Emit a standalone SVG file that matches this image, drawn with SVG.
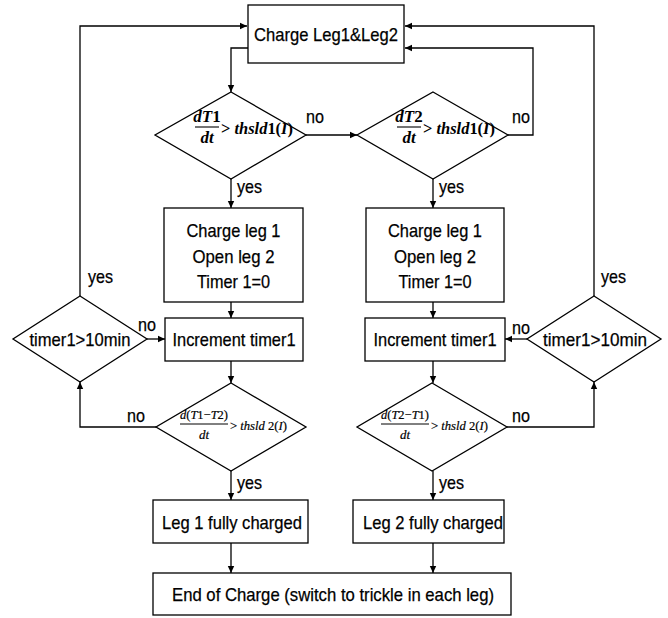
<svg xmlns="http://www.w3.org/2000/svg" width="668" height="618" viewBox="0 0 668 618">
<style>
.box{fill:#fff;stroke:#000;stroke-width:1.3}
.t{font-family:"Liberation Sans",Arial,sans-serif;font-size:19px;fill:#000;text-anchor:middle;stroke:#000;stroke-width:0.25}
.l{font-family:"Liberation Sans",Arial,sans-serif;font-size:19px;fill:#000;stroke:#000;stroke-width:0.25}
.m{font-family:"Liberation Serif","Times New Roman",serif;font-weight:bold;fill:#000}
.n{font-family:"Liberation Serif","Times New Roman",serif;fill:#000;stroke:#000;stroke-width:0.2}
.i{font-style:italic}
.c{fill:none;stroke:#000;stroke-width:1.3}
</style>
<defs>
<marker id="a" markerWidth="8" markerHeight="8" refX="7" refY="4" orient="auto" markerUnits="userSpaceOnUse">
<path d="M0,0.8 L7,4 L0,7.2 Z" fill="#000"/>
</marker>
</defs>
<rect width="668" height="618" fill="#fff"/>
<g id="connectors">
<path class="c" d="M80,296 V26 H247" marker-end="url(#a)"/>
<path class="c" d="M248,48 H231 V92" marker-end="url(#a)"/>
<path class="c" d="M306,135 H357" marker-end="url(#a)"/>
<path class="c" d="M508,135 H533 V48 H405" marker-end="url(#a)"/>
<path class="c" d="M231,179 V208" marker-end="url(#a)"/>
<path class="c" d="M433,179 V208" marker-end="url(#a)"/>
<path class="c" d="M231,302 V318" marker-end="url(#a)"/>
<path class="c" d="M433,302 V318" marker-end="url(#a)"/>
<path class="c" d="M147,339 H165" marker-end="url(#a)"/>
<path class="c" d="M527,339 H505" marker-end="url(#a)"/>
<path class="c" d="M231,361 V383" marker-end="url(#a)"/>
<path class="c" d="M433,361 V383" marker-end="url(#a)"/>
<path class="c" d="M156,427 H80 V382" marker-end="url(#a)"/>
<path class="c" d="M507,427 H594 V382" marker-end="url(#a)"/>
<path class="c" d="M594,296 V26 H405" marker-end="url(#a)"/>
<path class="c" d="M231,471 V500" marker-end="url(#a)"/>
<path class="c" d="M433,471 V500" marker-end="url(#a)"/>
<path class="c" d="M231,543 V573" marker-end="url(#a)"/>
<path class="c" d="M433,543 V573" marker-end="url(#a)"/>
<text class="l" x="306" y="123" textLength="18" lengthAdjust="spacingAndGlyphs">no</text>
<text class="l" x="512" y="123" textLength="18" lengthAdjust="spacingAndGlyphs">no</text>
<text class="l" x="237" y="193" textLength="25" lengthAdjust="spacingAndGlyphs">yes</text>
<text class="l" x="439" y="193" textLength="25" lengthAdjust="spacingAndGlyphs">yes</text>
<text class="l" x="88" y="283" textLength="25" lengthAdjust="spacingAndGlyphs">yes</text>
<text class="l" x="601" y="283" textLength="25" lengthAdjust="spacingAndGlyphs">yes</text>
<text class="l" x="138" y="331" textLength="18" lengthAdjust="spacingAndGlyphs">no</text>
<text class="l" x="512" y="334" textLength="18" lengthAdjust="spacingAndGlyphs">no</text>
<text class="l" x="127" y="422" textLength="18" lengthAdjust="spacingAndGlyphs">no</text>
<text class="l" x="512" y="422" textLength="18" lengthAdjust="spacingAndGlyphs">no</text>
<text class="l" x="237" y="489" textLength="25" lengthAdjust="spacingAndGlyphs">yes</text>
<text class="l" x="439" y="489" textLength="25" lengthAdjust="spacingAndGlyphs">yes</text>
</g>
<g id="start">
<rect class="box" x="248" y="5" width="156" height="58"/>
<text class="t" x="326" y="41" textLength="144" lengthAdjust="spacingAndGlyphs">Charge Leg1&amp;Leg2</text>
</g>
<g id="d1">
<polygon class="box" points="231,92 306,135 231,179 155,135"/>
<text class="m" font-size="17" x="207" y="122" text-anchor="middle"><tspan class="i">dT</tspan>1</text>
<line x1="195" y1="127" x2="219" y2="127" stroke="#000" stroke-width="1.1"/>
<text class="m i" font-size="17" x="207" y="143" text-anchor="middle">dt</text>
<text class="m" font-size="17" x="221" y="134" textLength="72" lengthAdjust="spacingAndGlyphs">&gt; <tspan class="i">thsld</tspan>1(<tspan class="i">I</tspan>)</text>
</g>
<g id="d2">
<polygon class="box" points="433,92 508,135 433,179 357,135"/>
<text class="m" font-size="17" x="409" y="122" text-anchor="middle"><tspan class="i">dT</tspan>2</text>
<line x1="397" y1="127" x2="421" y2="127" stroke="#000" stroke-width="1.1"/>
<text class="m i" font-size="17" x="409" y="143" text-anchor="middle">dt</text>
<text class="m" font-size="17" x="423" y="134" textLength="72" lengthAdjust="spacingAndGlyphs">&gt; <tspan class="i">thsld</tspan>1(<tspan class="i">I</tspan>)</text>
</g>
<g id="box1">
<rect class="box" x="164" y="208" width="139" height="94"/>
<text class="t" x="233.5" y="237" textLength="94" lengthAdjust="spacingAndGlyphs">Charge leg 1</text>
<text class="t" x="233.5" y="263" textLength="82" lengthAdjust="spacingAndGlyphs">Open leg 2</text>
<text class="t" x="233.5" y="288" textLength="73" lengthAdjust="spacingAndGlyphs">Timer 1=0</text>
</g>
<g id="box2">
<rect class="box" x="366" y="208" width="138" height="94"/>
<text class="t" x="435" y="237" textLength="94" lengthAdjust="spacingAndGlyphs">Charge leg 1</text>
<text class="t" x="435" y="263" textLength="82" lengthAdjust="spacingAndGlyphs">Open leg 2</text>
<text class="t" x="435" y="288" textLength="73" lengthAdjust="spacingAndGlyphs">Timer 1=0</text>
</g>
<g id="inc1">
<rect class="box" x="165" y="318" width="138" height="43"/>
<text class="t" x="234" y="346" textLength="123" lengthAdjust="spacingAndGlyphs">Increment timer1</text>
</g>
<g id="inc2">
<rect class="box" x="365" y="318" width="140" height="43"/>
<text class="t" x="435" y="346" textLength="123" lengthAdjust="spacingAndGlyphs">Increment timer1</text>
</g>
<g id="timerL">
<polygon class="box" points="80,296 147,339 80,382 13,339"/>
<text class="t" x="80" y="346" textLength="101" lengthAdjust="spacingAndGlyphs">timer1&gt;10min</text>
</g>
<g id="timerR">
<polygon class="box" points="594,296 661,339 594,382 527,339"/>
<text class="t" x="595" y="346" textLength="104" lengthAdjust="spacingAndGlyphs">timer1&gt;10min</text>
</g>
<g id="d3">
<polygon class="box" points="231,383 306,427 231,471 156,427"/>
<text class="n" font-size="13" x="204" y="419" text-anchor="middle" textLength="48" lengthAdjust="spacingAndGlyphs"><tspan class="i">d</tspan>(<tspan class="i">T</tspan>1−<tspan class="i">T</tspan>2)</text>
<line x1="180" y1="424" x2="228" y2="424" stroke="#000" stroke-width="1"/>
<text class="n i" font-size="13" x="204" y="439" text-anchor="middle">dt</text>
<text class="n" font-size="13" x="230" y="430" textLength="57" lengthAdjust="spacingAndGlyphs">&gt; <tspan class="i">thsld</tspan> 2(<tspan class="i">I</tspan>)</text>
</g>
<g id="d4">
<polygon class="box" points="432,383 507,427 432,471 357,427"/>
<text class="n" font-size="13" x="405" y="419" text-anchor="middle" textLength="48" lengthAdjust="spacingAndGlyphs"><tspan class="i">d</tspan>(<tspan class="i">T</tspan>2−<tspan class="i">T</tspan>1)</text>
<line x1="381" y1="424" x2="429" y2="424" stroke="#000" stroke-width="1"/>
<text class="n i" font-size="13" x="405" y="439" text-anchor="middle">dt</text>
<text class="n" font-size="13" x="431" y="430" textLength="57" lengthAdjust="spacingAndGlyphs">&gt; <tspan class="i">thsld</tspan> 2(<tspan class="i">I</tspan>)</text>
</g>
<g id="leg1">
<rect class="box" x="153" y="500" width="155" height="43"/>
<text class="t" x="232" y="529" textLength="140" lengthAdjust="spacingAndGlyphs">Leg 1 fully charged</text>
</g>
<g id="leg2">
<rect class="box" x="353" y="500" width="151" height="43"/>
<text class="t" x="433" y="529" textLength="140" lengthAdjust="spacingAndGlyphs">Leg 2 fully charged</text>
</g>
<g id="end">
<rect class="box" x="153" y="573" width="358" height="42"/>
<text class="t" x="333" y="601" textLength="322" lengthAdjust="spacingAndGlyphs">End of Charge (switch to trickle in each leg)</text>
</g>
</svg>
